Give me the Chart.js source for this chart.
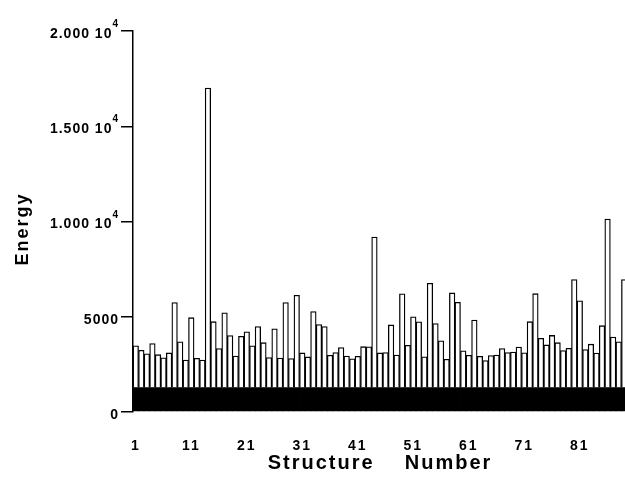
<!DOCTYPE html>
<html lang="en">
<head>
  <meta charset="UTF-8" />
  <title>Energy by Structure Number</title>
  <script src="https://cdn.jsdelivr.net/npm/chart.js"></script>
  <style>
    html, body { margin: 0; padding: 0; background: #fff; overflow: hidden; }
    canvas { display: block; }
  </style>
</head>
<body>
  <canvas id="energyChart" width="640" height="484"></canvas>

  <script>
    // structure numbers 1..89 (the plot is cut off at the right edge)
    const structures = Array.from({ length: 89 }, (_, i) => String(i + 1));
    const xTickLabels = ['1', '11', '21', '31', '41', '51', '61', '71', '81'];

    // total energy per structure
    const energy = [
      3470, 3240, 3050, 3590, 3010, 2850, 3100, 5740, 3680, 2730,
      4950, 2820, 2730, 17000, 4740, 3330, 5210, 4010, 2940, 3970,
      4210, 3470, 4490, 3640, 2860, 4370, 2830, 5740, 2810, 6130,
      3100, 2890, 5270, 4590, 4490, 2980, 3120, 3380, 2940, 2790,
      2920, 3430, 3420, 9180, 3100, 3120, 4570, 2990, 6200, 3500,
      5000, 4730, 2900, 6760, 4640, 3740, 2770, 6250, 5760, 3210,
      2980, 4830, 2920, 2700, 2960, 2990, 3330, 3120, 3150, 3410,
      3110, 4740, 6210, 3870, 3520, 4020, 3640, 3230, 3340, 6950,
      5840, 3280, 3560, 3090, 4530, 10130, 3930, 3690, 6950
    ];
    // solid black part at the bottom of every bar
    const baseEnergy = 1300;

    const yTickValues = [0, 5000, 10000, 15000, 20000];
    const yTickText = ['0', '5000', '1.000 10', '1.500 10', '2.000 10'];
    const yTickExp = ['', '', '4', '4', '4'];

    // y tick labels with superscript exponent, plus the y title
    const axisText = {
      id: 'axisText',
      beforeDraw(chart) {
        chart.ctx.letterSpacing = '2px';
      },
      afterDraw(chart) {
        const ctx = chart.ctx;
        const y = chart.scales.y;
        ctx.save();
        ctx.fillStyle = '#000';
        ctx.letterSpacing = '1px';
        yTickValues.forEach((v, i) => {
          const py = y.getPixelForValue(v);
          let right = 119;
          if (yTickExp[i]) {
            ctx.font = 'bold 10px "Liberation Sans", Arial, sans-serif';
            ctx.textAlign = 'right';
            ctx.textBaseline = 'alphabetic';
            ctx.fillText(yTickExp[i], right, py - 4);
            right -= ctx.measureText(yTickExp[i]).width;
          }
          ctx.font = 'bold 14px "Liberation Sans", Arial, sans-serif';
          ctx.textAlign = 'right';
          ctx.textBaseline = 'middle';
          ctx.fillText(yTickText[i], right, py + 3);
        });

        ctx.letterSpacing = '2px';
        ctx.font = 'bold 18px "Liberation Sans", Arial, sans-serif';
        ctx.translate(23, 229);
        ctx.rotate(-Math.PI / 2);
        ctx.textAlign = 'center';
        ctx.textBaseline = 'middle';
        ctx.fillText('Energy', 0, 0);
        ctx.restore();
      }
    };

    const ctx = document.getElementById('energyChart').getContext('2d');
    new Chart(ctx, {
      type: 'bar',
      data: {
        labels: structures,
        datasets: [
          {
            label: 'base',
            data: structures.map(() => baseEnergy),
            backgroundColor: '#000',
            borderWidth: 0,
            barPercentage: 1.15,
            categoryPercentage: 1
          },
          {
            label: 'Energy',
            data: energy.map(e => e - baseEnergy),
            backgroundColor: '#fff',
            borderColor: '#000',
            borderWidth: 1.3,
            barPercentage: 1,
            categoryPercentage: 1
          }
        ]
      },
      options: {
        responsive: false,
        animation: false,
        layout: { padding: { top: 31, right: 13, left: 0, bottom: 0 } },
        font: { family: '"Liberation Sans", Arial, sans-serif' },
        plugins: {
          legend: { display: false },
          tooltip: { enabled: false }
        },
        scales: {
          x: {
            stacked: true,
            grid: { display: false, drawTicks: false },
            border: { display: false },
            ticks: {
              autoSkip: false,
              maxRotation: 0,
              padding: 26,
              color: '#000',
              font: { family: '"Liberation Sans", Arial, sans-serif', weight: 'bold', size: 14 },
              callback: (v, i) => xTickLabels.includes(structures[i]) ? structures[i] : ''
            },
            title: {
              display: true,
              text: 'Structure    Number',
              color: '#000',
              font: { family: '"Liberation Sans", Arial, sans-serif', weight: 'bold', size: 20 },
              padding: { top: 0, bottom: 9 }
            },
            // fixed height; drop the side padding the tick padding would add
            afterFit: s => { s.height = 72; s.paddingLeft = 0; s.paddingRight = 0; }
          },
          y: {
            stacked: true,
            min: 0,
            max: 20000,
            ticks: { stepSize: 5000, display: false },
            grid: { drawOnChartArea: false, drawTicks: true, tickLength: 12, color: '#000', lineWidth: 1.5 },
            border: { color: '#000', width: 1.5 },
            afterFit: s => { s.width = 133; }
          }
        }
      },
      plugins: [axisText]
    });
  </script>
</body>
</html>
